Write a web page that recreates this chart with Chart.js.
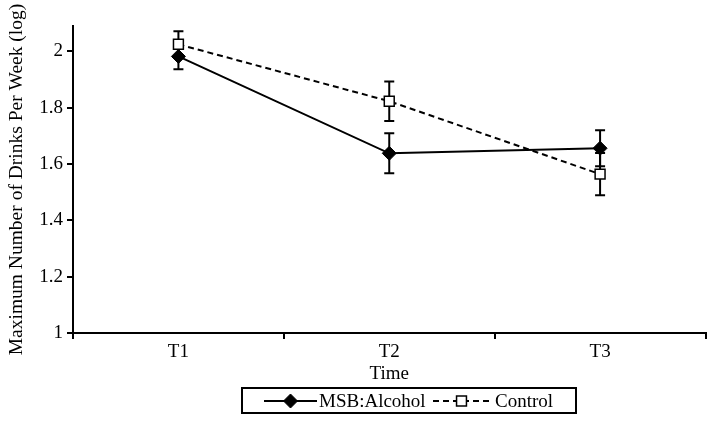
<!DOCTYPE html>
<html><head><meta charset="utf-8">
<script src="https://cdn.jsdelivr.net/npm/chart.js@4/dist/chart.umd.min.js"></script>
<style>html,body{margin:0;padding:0;background:#fff}#wrap{width:714px;height:423px}</style>
</head><body><div id="wrap"><canvas id="c" width="714" height="423"></canvas></div>
<script>
const categories = ['T1', 'T2', 'T3'];
const msbValues = [1.982, 1.638, 1.656];
const msbErrors = [0.046, 0.071, 0.064];
const controlValues = [2.025, 1.823, 1.564];
const controlErrors = [0.046, 0.070, 0.075];
const yTicks = [1, 1.2, 1.4, 1.6, 1.8, 2];
const seriesLabels = ['MSB:Alcohol', 'Control'];

const FONT = 'Liberation Serif, Times New Roman, serif';
const FS = 19;

const errorBars = {
  id: 'errorBars',
  beforeDatasetsDraw(chart) {
    const ctx = chart.ctx, y = chart.scales.y;
    ctx.save();
    ctx.strokeStyle = '#000';
    ctx.lineWidth = 2;
    chart.data.datasets.forEach((ds, di) => {
      const meta = chart.getDatasetMeta(di);
      meta.data.forEach((pt, i) => {
        const v = ds.data[i], e = ds.errors[i];
        const yt = y.getPixelForValue(v + e), yb = y.getPixelForValue(v - e);
        const x = pt.x;
        ctx.beginPath();
        ctx.moveTo(x, yt); ctx.lineTo(x, yb);
        ctx.moveTo(x - 5, yt); ctx.lineTo(x + 5, yt);
        ctx.moveTo(x - 5, yb); ctx.lineTo(x + 5, yb);
        ctx.stroke();
      });
    });
    ctx.restore();
  }
};

const customLegend = {
  id: 'customLegend',
  afterDraw(chart) {
    const ctx = chart.ctx;
    ctx.save();
    ctx.strokeStyle = '#000';
    ctx.lineWidth = 2;
    ctx.strokeRect(242, 388, 334, 25);
    const cy = 401;
    const items = [
      {x0: 264, x1: 317, tx: 319},
      {x0: 433, x1: 490, tx: 495}
    ];
    chart.data.datasets.forEach((ds, di) => {
      const it = items[di];
      ctx.strokeStyle = '#000';
      ctx.beginPath();
      ctx.setLineDash(ds.borderDash || []);
      ctx.lineWidth = 2;
      ctx.moveTo(it.x0, cy); ctx.lineTo(it.x1, cy);
      ctx.stroke();
      ctx.setLineDash([]);
      const cx = (it.x0 + it.x1) / 2;
      ctx.fillStyle = ds.pointBackgroundColor;
      ctx.lineWidth = ds.pointBorderWidth;
      ctx.beginPath();
      if (ds.pointStyle === 'rectRot') {
        const r = ds.pointRadius;
        ctx.moveTo(cx - r, cy); ctx.lineTo(cx, cy - r); ctx.lineTo(cx + r, cy); ctx.lineTo(cx, cy + r); ctx.closePath();
      } else {
        const s = ds.pointRadius * Math.SQRT1_2;
        ctx.rect(cx - s, cy - s, 2 * s, 2 * s);
      }
      ctx.fill(); ctx.stroke();
      ctx.fillStyle = '#000';
      ctx.font = FS + 'px ' + FONT;
      ctx.textBaseline = 'middle';
      ctx.textAlign = 'left';
      ctx.fillText(ds.label, it.tx, cy + 1);
    });
    ctx.restore();
  }
};

new Chart(document.getElementById('c'), {
  type: 'line',
  data: {
    labels: categories,
    datasets: [
      {
        label: seriesLabels[0], data: msbValues, errors: msbErrors,
        borderColor: '#000', borderWidth: 2,
        pointStyle: 'rectRot', pointRadius: 7, pointBackgroundColor: '#000', pointBorderColor: '#000', pointBorderWidth: 1,
        fill: false, tension: 0
      },
      {
        label: seriesLabels[1], data: controlValues, errors: controlErrors,
        borderColor: '#000', borderWidth: 2, borderDash: [6, 4],
        pointStyle: 'rect', pointRadius: 7, pointBackgroundColor: '#fff', pointBorderColor: '#000', pointBorderWidth: 1.5,
        fill: false, tension: 0
      }
    ]
  },
  options: {
    responsive: false,
    devicePixelRatio: 1,
    animation: false,
    layout: { padding: { left: 0, right: 8, top: 26, bottom: 38 } },
    plugins: { legend: { display: false }, tooltip: { enabled: false } },
    scales: {
      x: {
        type: 'category',
        offset: true,
        grid: { offset: true, drawOnChartArea: false, tickLength: 6, color: '#000', lineWidth: 2 },
        border: { color: '#000', width: 2 },
        ticks: { color: '#000', font: { family: FONT, size: FS }, padding: 2, maxRotation: 0 },
        title: { display: true, text: 'Time', color: '#000', font: { family: FONT, size: FS }, padding: { top: 0, bottom: 0 } },
        afterFit(scale) { scale.height = 52; }
      },
      y: {
        min: 1, max: 2.09,
        afterBuildTicks(scale) { scale.ticks = yTicks.map(v => ({ value: v })); },
        grid: { drawOnChartArea: false, tickLength: 6, color: '#000', lineWidth: 2 },
        border: { color: '#000', width: 2 },
        ticks: { color: '#000', font: { family: FONT, size: FS }, padding: 4, callback: v => String(v) },
        title: { display: true, text: 'Maximum Number of Drinks Per Week (log)', color: '#000', font: { family: FONT, size: 19.5 }, padding: { top: 5, bottom: 0 } },
        afterFit(scale) { scale.width = 73; }
      }
    }
  },
  plugins: [errorBars, customLegend]
});
</script>
</body></html>
